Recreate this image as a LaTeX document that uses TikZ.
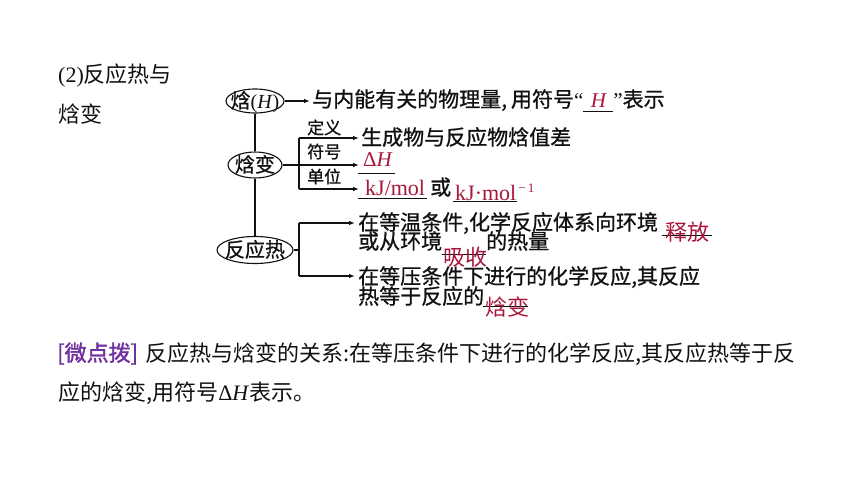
\documentclass[tikz,border=0pt]{standalone}
\usepackage{fontspec}
\setmainfont{Noto Sans CJK SC}
\newfontfamily\tms{Liberation Serif}
\newfontfamily\pfb[FakeBold=1.5]{Noto Sans CJK SC}
\newfontfamily\dfn[FakeBold=0.8]{Noto Sans CJK SC}
\usetikzlibrary{shapes.geometric,arrows.meta}
\definecolor{ink}{HTML}{111111}
\definecolor{ansred}{HTML}{A8173A}
\definecolor{tipc}{HTML}{7030A0}
\newcommand{\ctrtxt}[1]{\raisebox{-7pt}[0pt][0pt]{\makebox[0pt]{#1}}}
\newcommand{\blankfill}[3]{\rlap{\rule[#3]{#1}{0.8pt}}\makebox[#1]{#2}}
\begin{document}
\begin{tikzpicture}[x=1pt,y=-1pt,
  ell/.style={draw=ink, ellipse, inner sep=0pt, line width=1.1pt, text=ink, font=\fontsize{20}{20}\selectfont\dfn},
  ln/.style={draw=ink, line width=1.1pt},
  arr/.style={ln, -{Latex[length=6pt,width=4.5pt]}},
  txt/.style={anchor=base west, inner sep=0pt, text=ink, font=\fontsize{21}{21}\selectfont\dfn},
  lab/.style={anchor=base west, inner sep=0pt, text=ink, font=\fontsize{17}{17}\selectfont\dfn},
  ans/.style={anchor=base west, inner sep=0pt, text=ansred, font=\fontsize{22}{22}\selectfont},
  anst/.style={anchor=base west, inner sep=0pt, text=ansred, font=\fontsize{22}{22}\selectfont\tms},
  big/.style={anchor=base west, inner sep=0pt, text=ink, font=\fontsize{22}{22}\selectfont},
  blank/.style={draw=ink, line width=0.9pt}
]
\useasboundingbox[fill=white] (0,0) rectangle (860,482);

% title
\node[big] (title1) at (58,82) {{\tms (2)}反应热与};
\node[big] (title2) at (58,122) {焓变};

% ellipses
\node[ell, minimum width=58, minimum height=24] (h) at (255,101) {\ctrtxt{焓{\tms(\textit{H})}}};
\node[ell, minimum width=54, minimum height=26] (hb) at (255,165) {\ctrtxt{焓变}};
\node[ell, minimum width=76, minimum height=27] (r) at (255,250) {\ctrtxt{反应热}};
\draw[ln] (h) -- (hb);
\draw[ln] (hb) -- (r);

% line 1
\node[txt] (t1) at (312,107) {与内能有关的物理量,\hspace{4pt}用符号{\tms “}\blankfill{30pt}{\textcolor{ansred}{\tms\itshape H}}{-5pt}{\tms ”}表示};
\draw[arr, shorten >=2pt] (h.east) -- (t1.west |- h.east);

% enthalpy change branches
\coordinate (bj) at (299,165);
\coordinate (b1) at (299,138);
\coordinate (b3) at (299,189);
\draw[ln] (hb.east) -- (bj);
\draw[ln] (b1) -- (b3);
\node[txt] (d1) at (361,145) {生成物与反应物焓值差};
\node[anst, font=\fontsize{21}{21}\selectfont\tms] (d2) at (363,166) {Δ\textit{H}};
\node[anst] (d3) at (365,195) {kJ/mol};
\node[txt] (orw) at (430,195) {或};
\node[anst] (d4) at (455,200) {kJ·mol\raisebox{8pt}{\fontsize{13}{13}\selectfont\,−\,1}};
\draw[arr, shorten >=2pt] (b1) -- (b1 -| d1.west);
\draw[arr, shorten >=4pt] (bj) -- (bj -| d2.west);
\draw[arr, shorten >=6pt] (b3) -- (b3 -| d3.west);
\node[lab] (l1) at (307,134) {定义};
\node[lab] (l2) at (307,158) {符号};
\node[lab] (l3) at (307,183) {单位};
\draw[blank] (358,173) -- (395,173);
\draw[blank] (358,198) -- (427,198);
\draw[blank] (453,201) -- (517,201);

% reaction heat branches
\coordinate (rj) at (299,250);
\coordinate (r1) at (299,223);
\coordinate (r2) at (299,276);
\draw[ln] (r.east) -- (rj);
\draw[ln] (r1) -- (r2);
\node[txt] (p1) at (358,230) {在等温条件,化学反应体系向环境};
\node[txt] (p2) at (358,249) {或从环境};
\node[txt] (p2b) at (486,249) {的热量};
\node[txt] (p3) at (358,284) {在等压条件下进行的化学反应,其反应};
\node[txt] (p4) at (358,304) {热等于反应的};
\draw[arr, shorten >=3pt] (r1) -- (r1 -| p1.west);
\draw[arr, shorten >=3pt] (r2) -- (r2 -| p3.west);
\draw[blank] (662,235) -- (712,235);
\draw[blank] (442,254) -- (486,254);
\draw[blank] (483,306) -- (528,306);
\node[ans] (a1) at (665,240) {释放};
\node[ans] (a2) at (443,265) {吸收};
\node[ans] (a3) at (485,315) {焓变};

% bottom note
\node[big, text=tipc] (tip) at (57,361) {\pfb [微点拨]};
\node[big] (q1) at (145,361) {反应热与焓变的关系:在等压条件下进行的化学反应,其反应热等于反};
\node[big] (q2) at (58,400) {应的焓变,用符号{\tms Δ\textit{H}}表示。};
\end{tikzpicture}
\end{document}
